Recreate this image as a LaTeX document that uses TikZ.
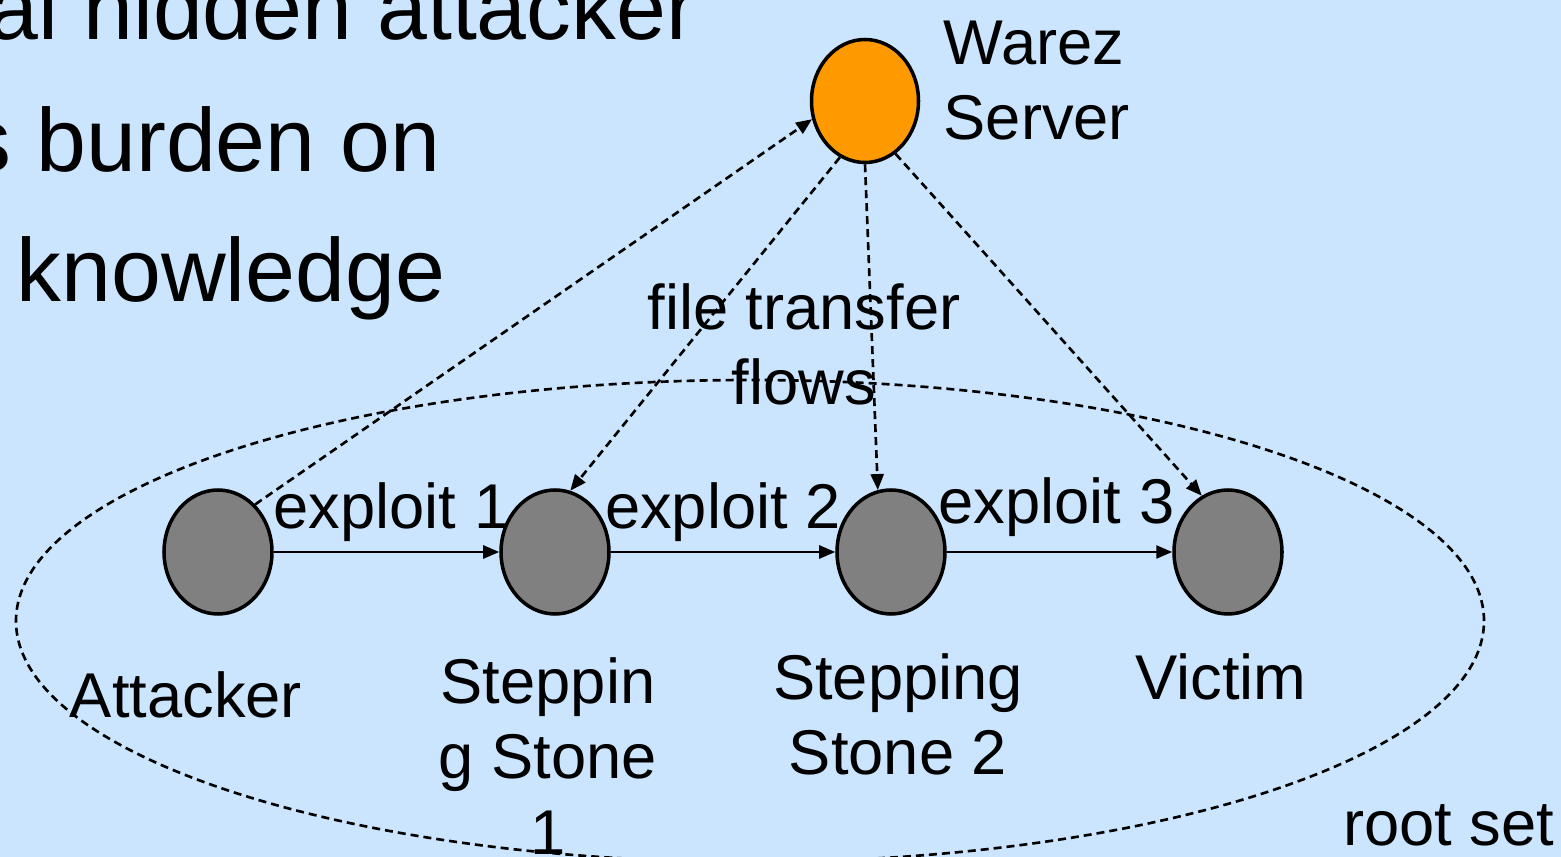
\documentclass[tikz,border=0pt]{standalone}
\usepackage{fontspec}
\setmainfont{Liberation Sans}
\usetikzlibrary{arrows.meta,shapes.geometric}

\definecolor{slideblue}{RGB}{204,229,255}
\definecolor{warezorange}{RGB}{255,153,0}
\definecolor{hostgray}{RGB}{128,128,128}

\tikzstyle{host} = [ellipse, minimum width=1.08cm, minimum height=1.24cm, inner sep=0pt, draw=black, line width=1pt, fill=hostgray]
\tikzstyle{hosttext} = [font=\fontsize{18}{21.4}\selectfont, inner sep=0pt, align=center]
\tikzstyle{bigtext} = [font=\fontsize{25.5}{30}\selectfont, inner sep=0pt]
\tikzstyle{arrow} = [line width=0.7pt, -{Triangle[length=0.16cm,width=0.13cm]}]
\tikzstyle{flow} = [arrow, line width=0.75pt, dash pattern=on 0.08cm off 0.05cm]
\tikzstyle{rootset} = [line width=0.75pt, dash pattern=on 0.08cm off 0.05cm]

\begin{document}
\begin{tikzpicture}
  \fill [slideblue] (0,0) rectangle (15.61,8.57);
  \clip (0,0) rectangle (15.61,8.57);

  \node (Hidden) [bigtext, anchor=base east] at (6.97,8.17) {al hidden attacker};
  \node (Burden) [bigtext, anchor=base east] at (4.41,6.85) {s burden on};
  \node (Knowledge) [bigtext, anchor=base east] at (4.46,5.55) {knowledge};

  \draw [rootset] (7.50,2.36) ellipse [x radius=7.34cm, y radius=2.41cm];

  \node (Attacker) [host] at (2.18,3.05) {};
  \node (Stone1) [host, right of=Attacker, xshift=2.37cm] {};
  \node (Stone2) [host, right of=Stone1, xshift=2.36cm] {};
  \node (Victim) [host, right of=Stone2, xshift=2.37cm] {};
  \node (Warez) [host, fill=warezorange, minimum width=1.07cm, minimum height=1.23cm] at (8.65,7.56) {};

  % base anchor of a multi-line node sits on its last line
  \node (Warez text) [hosttext, anchor=base west, align=left] at (9.43,7.17) {Warez\\Server};
  \node (Flows text) [hosttext, anchor=base] at (8.04,4.52) {file transfer\\flows};
  \node (Attacker text) [hosttext, anchor=base] at (1.86,1.39) {Attacker};
  \node (Stone1 text) [hosttext, anchor=base] at (5.48,0.03) {Steppin\\g Stone\\1};
  \node (Stone2 text) [hosttext, anchor=base] at (8.98,0.82) {Stepping\\Stone 2};
  \node (Victim text) [hosttext, anchor=base] at (12.21,1.57) {Victim};
  \node (Root text) [hosttext, anchor=base east] at (15.55,0.12) {root set};

  \draw [arrow] (Attacker) -- node [hosttext, above=0.09cm, xshift=0.05cm] {exploit 1} (Stone1);
  \draw [arrow] (Stone1) -- node [hosttext, above=0.09cm] {exploit 2} (Stone2);
  \draw [arrow] (Stone2) -- node [hosttext, above=0.14cm, xshift=-0.03cm] {exploit 3} (Victim);

  \draw [flow] (Attacker.52) -- (Warez.199);
  \draw [flow] (Warez.246) -- (Stone1.76);
  \draw [flow] (Warez.270) -- (Stone2.102);
  \draw [flow] (Warez.300) -- (Victim.115);
\end{tikzpicture}
\end{document}
